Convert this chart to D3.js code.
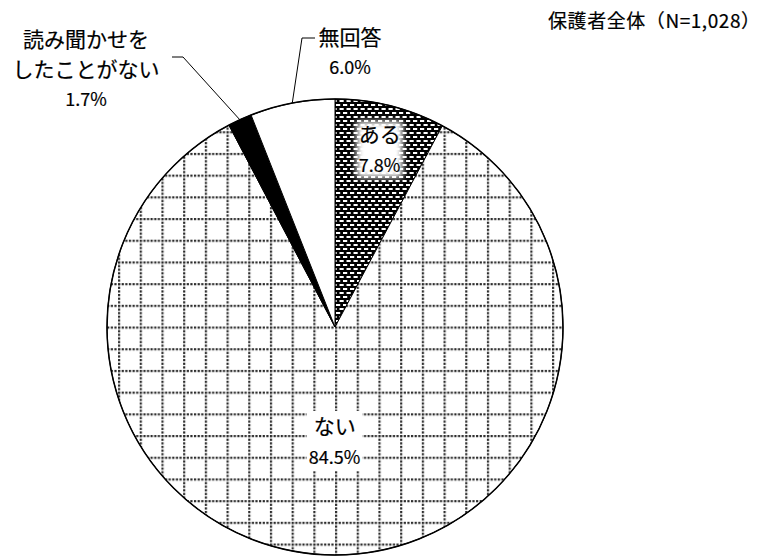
<!DOCTYPE html>
<html>
<head>
<meta charset="utf-8">
<script src="https://cdn.jsdelivr.net/npm/d3@7"></script>
<style>
  html, body { margin: 0; padding: 0; background: #fff; }
  svg text { font-family: "Noto Sans CJK JP", "Noto Sans", sans-serif; fill: #000; stroke: #000; stroke-width: 0.2px; }
</style>
</head>
<body>
<svg width="771" height="556"></svg>
<script>
// chart data
var categories = ["ある", "ない", "読み聞かせを\nしたことがない", "無回答"];
var values = [7.8, 84.5, 1.7, 6.0];
var title = "保護者全体（N=1,028）";

var svg = d3.select("svg"),
  cx = 335,
  cy = 327,
  radius = 228;

var defs = svg.append("defs");

// dotted grid used for "ない"
var grid = defs.append("pattern")
  .attr("id", "grid")
  .attr("patternUnits", "userSpaceOnUse")
  .attr("x", 0)
  .attr("y", -0.5)
  .attr("width", 21.7)
  .attr("height", 21.7);
grid.append("rect").attr("width", 21.7).attr("height", 21.7).attr("fill", "#fff");
d3.range(0, 21.7, 3.62).forEach(function(t) {
  grid.append("rect").attr("x", t).attr("y", 0).attr("width", 2.2).attr("height", 2.2).attr("fill", "#2a2a2a");
  grid.append("rect").attr("x", 0).attr("y", t).attr("width", 2.2).attr("height", 2.2).attr("fill", "#2a2a2a");
});

// dark weave used for "ある"
var weave = defs.append("pattern")
  .attr("id", "weave")
  .attr("patternUnits", "userSpaceOnUse")
  .attr("width", 7)
  .attr("height", 8);
weave.append("rect").attr("width", 7).attr("height", 8).attr("fill", "#000");
[[1, 1], [4.5, 5], [-2.5, 5]].forEach(function(p) {
  weave.append("rect").attr("x", p[0]).attr("y", p[1]).attr("width", 4.2).attr("height", 2).attr("fill", "#fff");
});

var blur = defs.append("filter").attr("id", "soft").attr("x", "-30%").attr("y", "-30%").attr("width", "160%").attr("height", "160%");
blur.append("feGaussianBlur").attr("stdDeviation", 3);

var fills = ["url(#weave)", "url(#grid)", "#000", "#fff"];

var pie = d3.pie().sort(null).value(function(d) { return d; });
var arcs = pie(values);
var arc = d3.arc().innerRadius(0).outerRadius(radius);

var g = svg.append("g").attr("transform", "translate(" + cx + "," + cy + ")");

g.selectAll("path.slice")
  .data(arcs)
  .enter()
  .append("path")
  .attr("class", "slice")
  .attr("d", arc)
  .attr("fill", function(d, i) { return fills[i]; })
  .attr("stroke", "#000")
  .attr("stroke-width", 1);

g.append("circle").attr("r", radius).attr("fill", "none").attr("stroke", "#000").attr("stroke-width", 1.5);

function midAngle(d) { return (d.startAngle + d.endAngle) / 2; }
function polar(a, r) { return [Math.sin(a) * r, -Math.cos(a) * r]; }
function pct(v) { return v.toFixed(1) + "%"; }

// inside labels
var insideR = [184, 113];
var fs = 21, nfs = 18;
[0, 1].forEach(function(i) {
  var p = polar(midAngle(arcs[i]), insideR[i]);
  var lg = g.append("g").attr("transform", "translate(" + p[0] + "," + p[1] + ")");
  if (i === 0) {
    lg.append("rect").attr("x", -23).attr("y", -27).attr("width", 46).attr("height", 56)
      .attr("fill", "#fff").attr("filter", "url(#soft)");
  } else {
    lg.append("rect").attr("x", -28).attr("y", -29).attr("width", 56).attr("height", 60).attr("fill", "#fff");
  }
  lg.append("text").attr("text-anchor", "middle").attr("y", -6).attr("font-size", fs).text(categories[i]);
  lg.append("text").attr("text-anchor", "middle").attr("y", 24).attr("font-size", nfs).text(pct(values[i]));
});

// outside labels with leader lines
var outside = [
  { i: 2, elbow: [183 - cx, 57 - cy], end: [172 - cx, 57 - cy], tx: 86 - cx, ty: 47 - cy },
  { i: 3, elbow: [302 - cx, 38 - cy], end: [315 - cx, 38 - cy], tx: 350 - cx, ty: 45 - cy }
];
outside.forEach(function(o) {
  var p = polar(midAngle(arcs[o.i]), radius);
  g.append("path")
    .attr("d", d3.line()([p, o.elbow, o.end]))
    .attr("fill", "none")
    .attr("stroke", "#000")
    .attr("stroke-width", 1);
  var lines = categories[o.i].split("\n");
  lines.forEach(function(s, k) {
    g.append("text").attr("text-anchor", "middle").attr("x", o.tx).attr("y", o.ty + k * 30)
      .attr("font-size", fs).text(s);
  });
  g.append("text").attr("text-anchor", "middle").attr("x", o.tx).attr("y", o.ty + lines.length * 30 - 1)
    .attr("font-size", nfs).text(pct(values[o.i]));
});

svg.append("text")
  .attr("x", 548)
  .attr("y", 28)
  .attr("font-size", 19)
  .attr("textLength", 212)
  .attr("lengthAdjust", "spacing")
  .text(title);
</script>
</body>
</html>
